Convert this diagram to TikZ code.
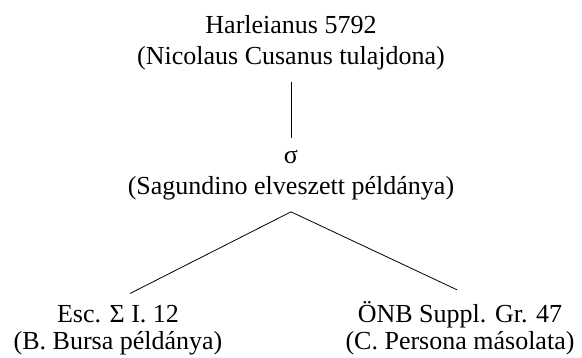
\documentclass[tikz,border=0pt]{standalone}
\usepackage{fontspec}
\setmainfont{Liberation Serif}
\usetikzlibrary{positioning}

\begin{document}
\begin{tikzpicture}[
    ms/.style={
        align=center,
        inner sep=0pt,
        outer ysep=12pt,
        font=\fontsize{26}{31}\selectfont
    },
    msbot/.style={
        ms,
        font=\fontsize{26}{27}\selectfont
    },
    link/.style={line width=0.8pt}
]
\useasboundingbox (0,0) rectangle (582pt,-357pt);
\node[ms, anchor=north] (harl) at (291pt,-3pt) {Harleianus 5792\\(Nicolaus Cusanus tulajdona)};
\node[ms, below=1.98cm of harl] (sig) {σ\\(Sagundino elveszett példánya)};
\node[msbot, below=2.87cm of sig, xshift=-173pt] (esc) {Esc. Σ I. 12\\(B. Bursa példánya)};
\node[msbot, below=2.74cm of sig, xshift=169pt] (onb) {ÖNB Suppl. Gr. 47\\(C. Persona másolata)};

\draw[link] (harl) -- (sig);
\draw[link] (sig.south) -- ([xshift=12pt]esc.north);
\draw[link] (sig.south) -- ([xshift=-3pt]onb.north);
\end{tikzpicture}
\end{document}
